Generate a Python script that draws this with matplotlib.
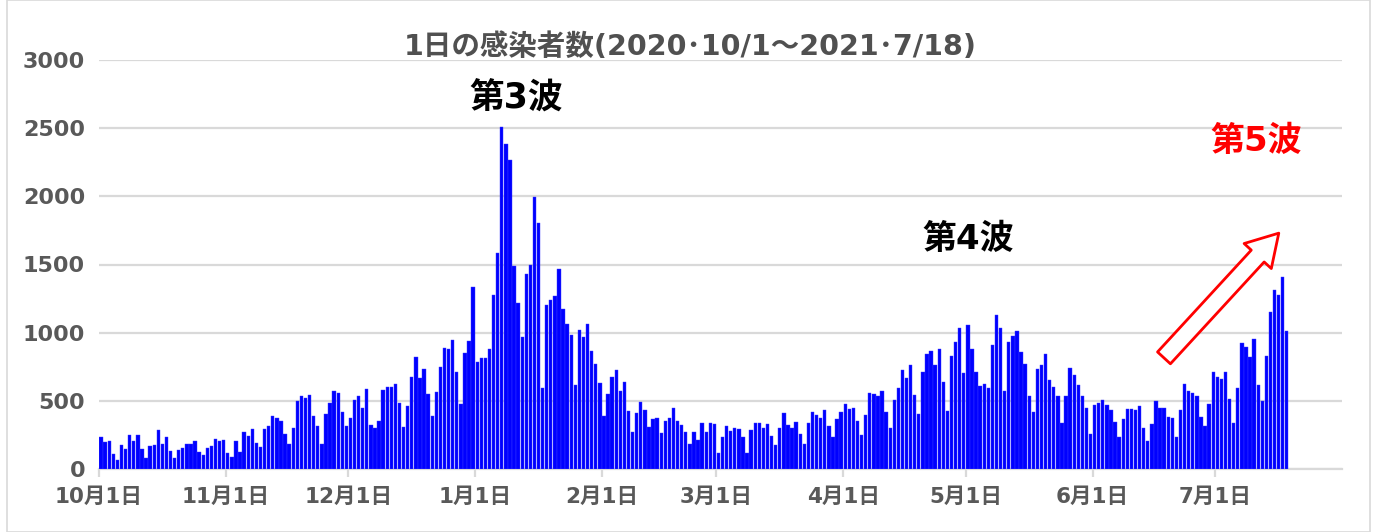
import matplotlib
matplotlib.use("Agg")
import matplotlib.pyplot as plt
from matplotlib.patches import FancyArrowPatch, Rectangle
import numpy as np

plt.rcParams['font.family'] = ['DejaVu Sans', 'Noto Sans CJK JP']

# Daily new infections, 2020-10-01 .. 2021-07-18
oct_vals = [237, 198, 208, 110, 68, 176, 144, 247, 205, 252, 149, 81, 169, 176, 286, 186,
            237, 134, 78, 139, 154, 186, 186, 203, 127, 103, 156, 171, 222, 205, 213]
nov_vals = [117, 86, 208, 127, 271, 242, 293, 191, 159, 293, 318, 391, 377, 355, 257, 181,
            301, 496, 538, 523, 543, 391, 318, 186, 403, 482, 575, 560, 421, 313]
dec_vals = [374, 504, 533, 447, 584, 325, 298, 355, 577, 601, 599, 621, 482, 308, 460, 677,
            820, 664, 737, 553, 392, 565, 745, 886, 881, 947, 708, 479, 854, 942, 1334]
jan_vals = [784, 811, 815, 881, 1275, 1587, 2512, 2385, 2264, 1490, 1217, 969, 1429, 1497,
            1996, 1806, 594, 1200, 1237, 1271, 1467, 1171, 1066, 983, 614, 1020, 971, 1064,
            866, 768, 631]
feb_vals = [386, 553, 672, 729, 575, 636, 428, 274, 411, 491, 435, 308, 369, 374, 266, 350,
            377, 447, 355, 325, 274, 181, 274, 215, 340, 274, 340, 330]
mar_vals = [120, 232, 318, 279, 303, 293, 237, 115, 289, 340, 337, 303, 330, 240, 176, 301,
            411, 320, 303, 345, 257, 186, 337, 421, 399, 377, 430, 313, 232, 364, 416]
apr_vals = [475, 438, 446, 352, 249, 399, 557, 547, 537, 571, 419, 303, 507, 594, 729, 670,
            764, 542, 404, 712, 845, 862, 764, 877, 635, 424, 830, 929, 1032, 704]
may_vals = [1057, 882, 712, 611, 621, 594, 911, 1128, 1037, 574, 931, 973, 1015, 857, 773,
            539, 419, 734, 766, 845, 650, 601, 537, 340, 539, 744, 687, 616, 539, 446, 259]
jun_vals = [470, 483, 507, 470, 436, 347, 234, 367, 438, 438, 436, 465, 300, 206, 333, 498,
            449, 449, 382, 373, 233, 431, 620, 569, 559, 534, 382, 314, 475, 713]
jul_vals = [672, 657, 713, 515, 341, 591, 922, 897, 821, 951, 615, 502, 831, 1152, 1311,
            1275, 1409, 1010]

month_labels = ['10月1日', '11月1日', '12月1日', '1月1日', '2月1日', '3月1日',
                '4月1日', '5月1日', '6月1日', '7月1日']
month_lengths = [31, 30, 31, 31, 28, 31, 30, 31, 30, 31]

title = '1日の感染者数(2020･10/1～2021･7/18)'

values = (oct_vals + nov_vals + dec_vals + jan_vals + feb_vals + mar_vals +
          apr_vals + may_vals + jun_vals + jul_vals)
days = np.arange(len(values))
month_starts = np.concatenate([[0], np.cumsum(month_lengths)[:-1]])
axis_days = int(np.sum(month_lengths))  # axis runs to 7/31

fig = plt.figure(figsize=(13.77, 5.32), dpi=100)
ax = fig.add_axes([99 / 1377, 1 - 469 / 532, (1342 - 99) / 1377, (469 - 60) / 532])

ax.bar(days, values, width=0.82, color='#0000ff', edgecolor='#3a3aff', linewidth=0.3, zorder=3)

ax.set_xlim(-0.5, axis_days - 0.5)
ax.set_ylim(0, 3000)
ax.set_yticks(np.arange(0, 3001, 500))
ax.yaxis.grid(True, color='#d9d9d9', linewidth=1.6, zorder=0)
ax.set_axisbelow(True)

ax.set_xticks(month_starts - 0.5)
ax.set_xticklabels(month_labels)
for s in ['top', 'right', 'left']:
    ax.spines[s].set_visible(False)
ax.spines['bottom'].set_color('#d9d9d9')
ax.spines['bottom'].set_linewidth(1.6)
ax.tick_params(axis='x', length=6, width=1.6, color='#d9d9d9', pad=7,
               labelsize=15.5, labelcolor='#595959')
ax.tick_params(axis='y', length=0, pad=10, labelsize=16, labelcolor='#595959')
for lab in ax.get_xticklabels() + ax.get_yticklabels():
    lab.set_fontweight('bold')

fig.text(690 / 1377, 1 - 47 / 532, title, ha='center', va='center',
         fontsize=20.5, fontweight='bold', color='#505050')

ax.text(101.5, 2720, '第3波', ha='center', va='center', fontsize=25,
        fontweight='bold', color='black')
ax.text(212, 1680, '第4波', ha='center', va='center', fontsize=24.5,
        fontweight='bold', color='black')
ax.text(282.5, 2400, '第5波', ha='center', va='center', fontsize=24.5,
        fontweight='bold', color='#ff0000')

arrow = FancyArrowPatch((259.5, 800), (288.5, 1745),
                        arrowstyle='simple,head_length=1.6,head_width=1.9,tail_width=0.9',
                        mutation_scale=14, facecolor='white', edgecolor='#ff0000',
                        linewidth=2, zorder=5)
ax.add_patch(arrow)

fig.patches.append(Rectangle((7 / 1377, 0), 1 - 14 / 1377, 1, transform=fig.transFigure,
                             fill=False, edgecolor='#d9d9d9', linewidth=1.2))

fig.savefig('out.png', dpi=100)
